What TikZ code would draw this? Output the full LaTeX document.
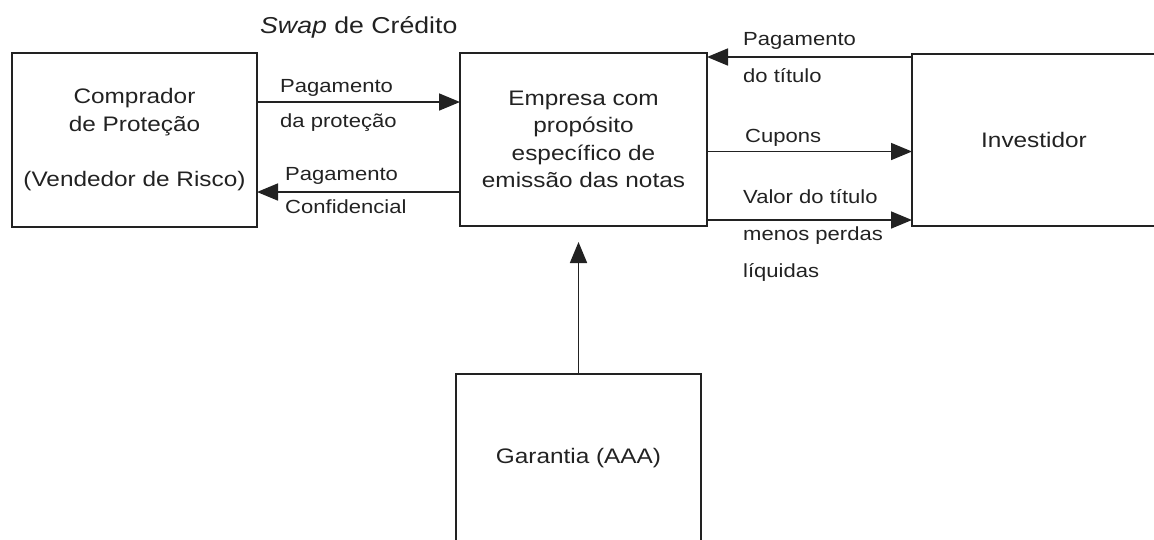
\documentclass[tikz,border=0pt]{standalone}
\usepackage{fontspec}
\setmainfont{Liberation Sans}[FakeStretch=1.16]
\usetikzlibrary{arrows.meta}
\definecolor{ink}{HTML}{222222}
\newcommand\bxfont{\fontsize{21}{27.5}\selectfont}
\newcommand\lbfont{\fontsize{19}{23}\selectfont}
\newcommand\ttlfont{\fontsize{23}{27}\selectfont}
\begin{document}
\begin{tikzpicture}[x=1pt,y=-1pt,
  box/.style={draw=ink,line width=1.7pt,rectangle,inner sep=0pt,outer sep=0pt,
    align=center,font=\bxfont,text=ink},
  arr/.style={draw=ink,line width=1.7pt,-{Triangle[length=21pt,width=17pt]}},
  lbl/.style={anchor=base west,font=\lbfont,text=ink,inner sep=0pt}]
\useasboundingbox (0,0) rectangle (1154,539);
\clip (0,0) rectangle (1154,539);
% boxes
\node[box,minimum width=245pt,minimum height=174pt] (comp) at (134.5,140)
  {Comprador\\de Proteção\\[28pt](Vendedor de Risco)};
\node[box,minimum width=247pt,minimum height=173pt] (emp) at (583.5,139.5)
  {Empresa com\\propósito\\específico de\\emissão das notas};
\node[box,minimum width=244pt,minimum height=172pt] (inv) at (1034,140)
  {Investidor};
\node[box,minimum width=245pt,minimum height=168pt] (gar) at (578.5,458)
  {Garantia (AAA)};
% connectors
\draw[arr] ([yshift=38pt]comp.east) -- ([yshift=38pt]comp.east -| emp.west);
\draw[arr] ([yshift=-52pt]comp.east -| emp.west) -- ([yshift=-52pt]comp.east);
\draw[arr] ([yshift=83pt]inv.west) -- ([yshift=83pt]inv.west -| emp.east);
\draw[arr] ([yshift=-11.5pt]inv.west -| emp.east) -- ([yshift=-11.5pt]inv.west);
\draw[arr] ([yshift=-80pt]inv.west -| emp.east) -- ([yshift=-80pt]inv.west);
\draw[arr,shorten >=16pt] (gar.north) -- (gar.north |- emp.south);
% labels
\node[anchor=base west,font=\ttlfont,text=ink,inner sep=0pt] (ttl) at (260,33)
  {\textit{Swap} de Crédito};
\node[lbl] (l1) at (280,92) {Pagamento};
\node[lbl] (l2) at (280,127) {da proteção};
\node[lbl] (l3) at (285,180) {Pagamento};
\node[lbl] (l4) at (285,213) {Confidencial};
\node[lbl] (l5) at (743,45) {Pagamento};
\node[lbl] (l6) at (743,82) {do título};
\node[lbl] (l7) at (745,142) {Cupons};
\node[lbl] (l8) at (743,203) {Valor do título};
\node[lbl] (l9) at (743,240) {menos perdas};
\node[lbl] (l10) at (743,277) {líquidas};
\end{tikzpicture}
\end{document}
